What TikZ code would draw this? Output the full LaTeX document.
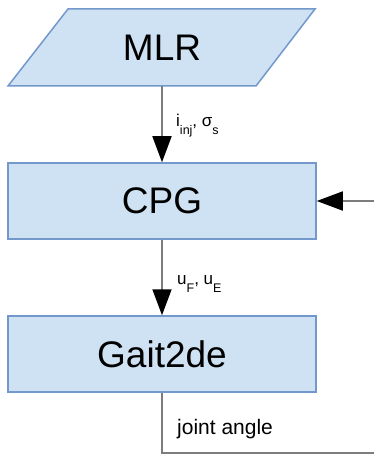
\documentclass[tikz,border=0pt]{standalone}
\usepackage{fontspec}
\setmainfont{Liberation Sans}
\usetikzlibrary{arrows.meta}
\definecolor{boxfill}{RGB}{207,226,243}
\definecolor{boxline}{RGB}{114,152,204}
\definecolor{wire}{RGB}{125,125,125}
\tikzset{
  blk/.style={draw=boxline, fill=boxfill, line width=1.5pt, minimum width=308pt, minimum height=76pt, inner sep=0pt, font=\fontsize{37}{37}\selectfont},
  conn/.style={draw=wire, line width=1.8pt, -{Triangle[length=26pt,width=19pt,black]}},
  plainline/.style={draw=wire, line width=1.8pt},
  lbl/.style={inner sep=0pt, anchor=base west, font=\fontsize{17}{17}\selectfont},
}
\newcommand{\lsub}[1]{\raisebox{-8pt}{\fontsize{12.5}{12.5}\selectfont #1}}
\begin{document}
\begin{tikzpicture}[x=1pt,y=-1pt]
\useasboundingbox (0,0) rectangle (374,457);
% MLR parallelogram
\fill[boxfill] (68,9) -- (315,9) -- (256,86) -- (8,86) -- cycle;
\draw[boxline, line width=1.5pt, line join=miter] (68,9) -- (315,9) -- (256,86) -- (8,86) -- cycle;
\node[inner sep=0pt, minimum width=187pt, minimum height=77pt, font=\fontsize{37}{37}\selectfont] (mlr) at (162,47.5) {MLR};
\node[blk] (cpg) at (162,201) {CPG};
\node[blk] (gait) at (162,354) {Gait2de};
\coordinate (fbin) at (374,201);
\coordinate (fbcorner) at (162,453);
\coordinate (fbout) at (374,453);
\draw[conn] (mlr.south) -- (cpg.north);
\draw[conn] (cpg.south) -- (gait.north);
\draw[conn] (fbin) -- (cpg.east);
\draw[plainline] (gait.south) -- (fbcorner) -- (fbout);
\node[lbl] (l1) at (176,127) {i\lsub{inj}, σ\lsub{s}};
\node[lbl] (l2) at (177,284) {u\lsub{F}, u\lsub{E}};
\node[lbl, font=\fontsize{21}{21}\selectfont] (l3) at (177,434) {joint angle};
\end{tikzpicture}
\end{document}
